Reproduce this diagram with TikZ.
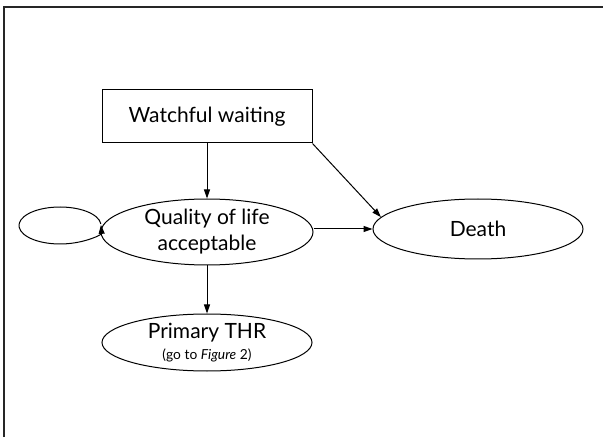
\documentclass[tikz,border=0pt]{standalone}
\usepackage{fontspec}
\setmainfont{Lato}
\usetikzlibrary{shapes.geometric,arrows.meta,calc}

\tikzset{
  shape line/.style={draw=black, line width=1pt},
  statebox/.style={shape line, rectangle, minimum width=210pt, minimum height=53pt, inner sep=0pt,
    font=\fontsize{21}{26}\selectfont},
  stateoval/.style={shape line, ellipse, inner sep=0pt, align=center,
    font=\fontsize{21}{26}\selectfont},
  flow/.style={line width=1pt, -{Triangle[length=9pt,width=6pt]}},
  frameline/.style={line width=1.6pt, draw=black!85}
}

\begin{document}
\begin{tikzpicture}[x=1pt, y=1pt]
  \useasboundingbox (0,0) rectangle (603,437);

  % outer frame (top and left edges only)
  \draw[frameline] (4,0) -- (4,429.7) -- (603,429.7);

  % states
  \node[statebox] (wait) at (207,320.5) {Watchful waiting};
  \node[stateoval, minimum width=212pt, minimum height=66pt] (qol) at (207,205)
       {Quality of life\\acceptable};
  \node[stateoval, minimum width=210pt, minimum height=60pt] (death) at (478,208) {Death};
  \node[stateoval, minimum width=210pt, minimum height=57pt] (thr) at (207,94.5)
       {Primary THR\\[-5pt]{\fontsize{13.8}{16}\selectfont (go to \textit{Figure} 2)}};

  % self-loop on the acceptable state
  \coordinate (loopc) at (60,211.5);
  \draw[flow] ($(loopc)+(5:41pt and 18.5pt)$) arc[start angle=5, end angle=362, x radius=41pt, y radius=18.5pt];

  % transitions
  \draw[flow] (wait.south) -- (qol.north);
  \draw[flow] (qol.south) -- (thr.north);
  \draw[flow] (qol.east |- death.west) -- (death.west);
  \draw[flow] (wait.south east) -- (death.173);
\end{tikzpicture}
\end{document}
